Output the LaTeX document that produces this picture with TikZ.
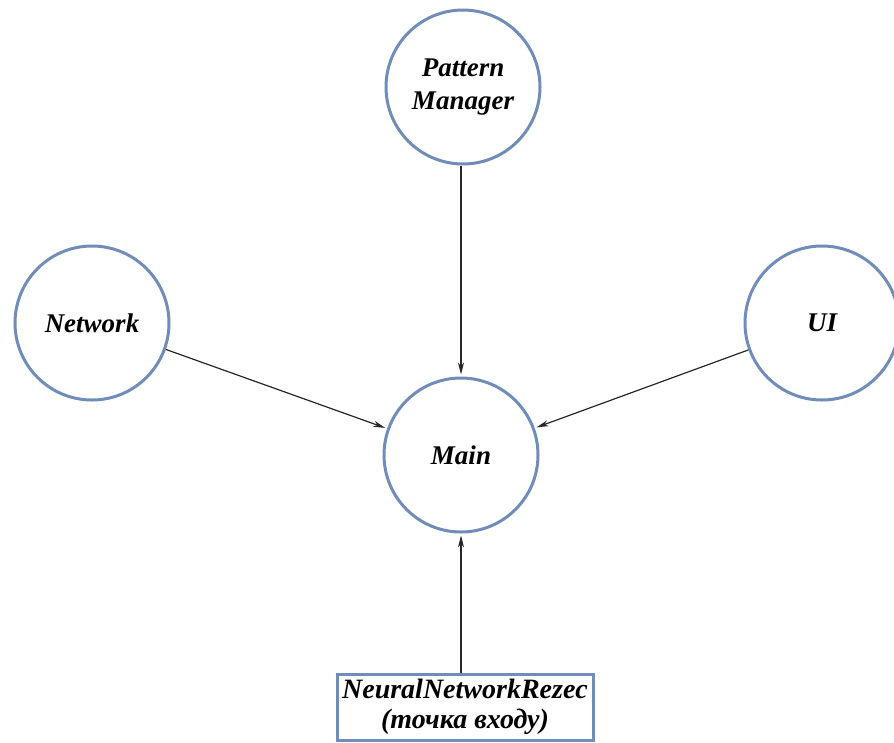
\documentclass[tikz,border=0pt]{standalone}
\usepackage{fontspec}
\setmainfont{Liberation Serif}
\usetikzlibrary{arrows.meta}
\definecolor{ringblue}{RGB}{112,140,184}
\begin{document}
\begin{tikzpicture}[x=1pt,y=-1pt,
  ring/.style={circle, draw=ringblue, line width=3pt, fill=white, minimum size=154pt, inner sep=0pt, align=center, font=\fontsize{27}{33}\selectfont\bfseries\itshape},
  entry/.style={rectangle, draw=ringblue, line width=3pt, fill=white, minimum width=256pt, minimum height=66pt, inner sep=0pt, align=center, font=\fontsize{28}{30}\selectfont\bfseries\itshape},
  link/.style={draw=black!85, line width=1.2pt, -{Stealth[length=12pt,width=6pt]}, shorten >=2pt}]
\useasboundingbox (0,0) rectangle (894,742);
\node[ring] (pm) at (463,87) {Pattern\\Manager};
\node[ring] (net) at (92,323) {Network};
\node[ring] (ui) at (822,323) {UI};
\node[ring] (main) at (461,455) {Main};
\node[entry] (nnr) at (465,707) {NeuralNetworkRezec\\(точка входу)};
\draw[link] (pm.south -| main.north) -- (main.north);
\draw[link] (net) -- (main);
\draw[link] (ui) -- (main);
\draw[link] (nnr.north -| main.south) -- (main.south);
\end{tikzpicture}
\end{document}
